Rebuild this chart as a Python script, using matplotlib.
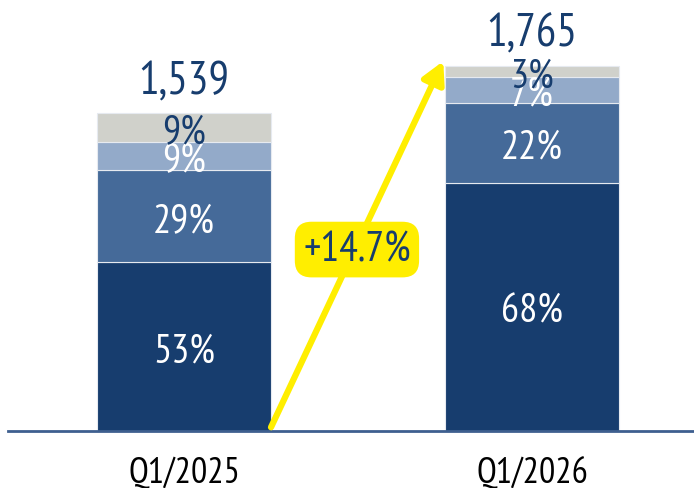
import numpy as np
import matplotlib
matplotlib.use("Agg")
import matplotlib.pyplot as plt

# data
periods = ["Q1/2025", "Q1/2026"]
totals = [1539, 1765]
pct_dark = [53, 68]
pct_mid = [29, 22]
pct_light = [9, 7]
pct_grey = [9, 3]
growth_label = "+14.7%"

plt.rcParams["font.family"] = ["PT Sans Narrow", "DejaVu Sans"]

navy = "#173d6e"
colors = ["#173d6e", "#456a99", "#93aac9", "#d0d1cb"]
text_cols = ["white", "white", "white", navy]
layers = [pct_dark, pct_mid, pct_light, pct_grey]

fig = plt.figure(figsize=(6.94, 4.89), dpi=100)
ax = fig.add_axes([0, 57 / 489, 1, 432 / 489])

x = np.arange(len(periods))
totals_arr = np.array(totals, dtype=float)
bottom = np.zeros(len(periods))
for pcts, col, tcol in zip(layers, colors, text_cols):
    vals = totals_arr * np.array(pcts) / 100.0
    ax.bar(x, vals, 0.5, bottom=bottom, color=col, edgecolor="#e6eaf0", linewidth=0.8)
    for i in range(len(x)):
        ax.text(x[i], bottom[i] + vals[i] / 2, f"{pcts[i]}%", ha="center", va="center_baseline",
                color=tcol, fontsize=29)
    bottom += vals

for i in range(len(x)):
    ax.annotate(f"{totals[i]:,}", (x[i], totals[i]), xytext=(0, 27), textcoords="offset points",
                ha="center", va="center_baseline", color=navy, fontsize=33)

ax.set_xlim(-184 / 348, 510 / 348)
ax.set_ylim(0, 2091)
ax.axis("off")

# baseline
ax.plot([-176 / 348, 510 / 348], [0, 0], color="#3e5f8f", lw=2, clip_on=False)

# category labels
for i in range(len(x)):
    ax.text(x[i], -185, periods[i], ha="center", va="center_baseline", color="black", fontsize=26)

# growth arrow
ax.annotate("", xy=(0.745, totals[1] + 25), xytext=(0.25, 18),
            arrowprops=dict(arrowstyle="-|>,head_length=1.3,head_width=0.7", color="#ffee00",
                            lw=4.5, shrinkA=0, shrinkB=0))
ax.text(0.497, 900, growth_label, ha="center", va="center_baseline", color=navy, fontsize=30,
        bbox=dict(boxstyle="round,pad=0.2,rounding_size=0.4", fc="#ffee00", ec="none"))

fig.savefig("out.png", dpi=100)
